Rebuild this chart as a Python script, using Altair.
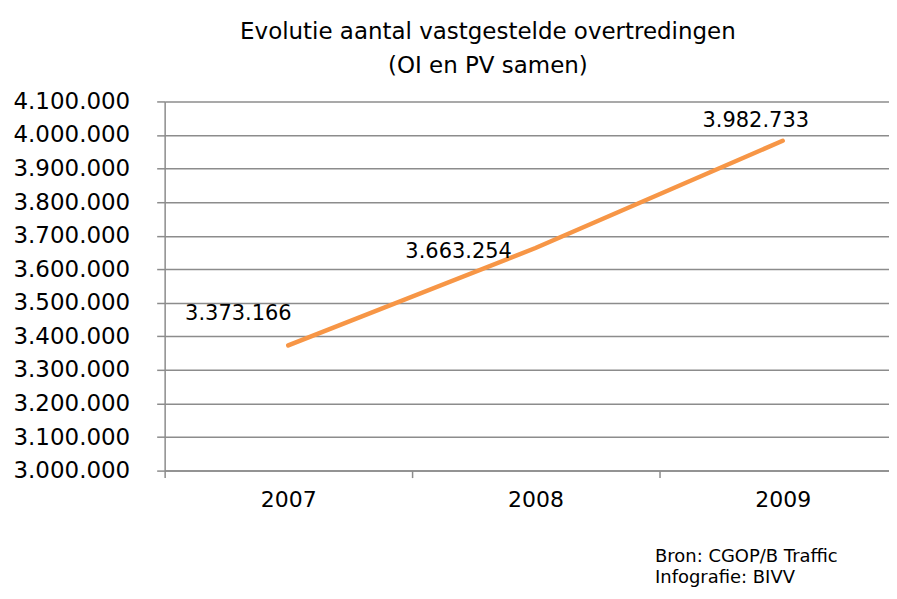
import altair as alt
import pandas as pd

# ---- data ----
years = [2007, 2008, 2009]
values = [3373166, 3663254, 3982733]
y_ticks = [3000000, 3100000, 3200000, 3300000, 3400000, 3500000,
           3600000, 3700000, 3800000, 3900000, 4000000, 4100000]
x_ticks = [2006.5, 2007, 2007.5, 2008, 2008.5, 2009]
title_lines = ["Evolutie aantal vastgestelde overtredingen", "(OI en PV samen)"]
source_lines = ["Bron: CGOP/B Traffic", "Infografie: BIVV"]

df = pd.DataFrame({"jaar": years, "aantal": values})

# ---- style ----
FONT = "DejaVu Sans"
GRID = "#8c8c8c"
ORANGE = "#F79646"
label_offsets = {2007: (-50, -31), 2008: (-77, 4), 2009: (-27, -20)}

dots_expr = "replace(format(datum.value, ','), regexp(',', 'g'), '.')"

x_scale = alt.Scale(domain=[2006.5, 2009.43], nice=False, zero=False)
y_scale = alt.Scale(domain=[3000000, 4100000], nice=False, zero=False)

x_axis = alt.Axis(
    values=x_ticks,
    grid=False,
    labelExpr="datum.value % 1 == 0 ? format(datum.value, 'd') : ''",
    labelOverlap=False,
    labelFlush=False,
    labelFont=FONT,
    labelFontSize=22,
    labelColor="black",
    labelPadding=12,
    tickSize=7,
    tickWidth=1.5,
    tickColor=GRID,
    tickOpacity={"condition": {"test": "datum.value % 1 == 0", "value": 0}, "value": 1},
    domainColor=GRID,
    domainWidth=1.5,
    title=source_lines,
    titleFont=FONT,
    titleFontSize=18,
    titleFontWeight="normal",
    titleColor="black",
    titleLineHeight=21,
    titleAlign="left",
    titleBaseline="top",
    titleAngle=0,
    titleX=491,
    titleY=77,
)

y_axis = alt.Axis(
    values=y_ticks,
    labelExpr=dots_expr,
    labelOverlap=False,
    labelFont=FONT,
    labelFontSize=23,
    labelColor="black",
    labelPadding=27,
    tickSize=8,
    tickWidth=1.5,
    tickColor=GRID,
    domainColor=GRID,
    domainWidth=1.5,
    grid=True,
    gridColor=GRID,
    gridWidth=1.5,
    title=None,
)

X = alt.X("jaar:Q", scale=x_scale, axis=x_axis)
Y = alt.Y("aantal:Q", scale=y_scale, axis=y_axis)

base = alt.Chart(df).transform_calculate(
    label="replace(format(datum.aantal, ','), regexp(',', 'g'), '.')"
)

line = base.mark_line(color=ORANGE, strokeWidth=4.5, strokeCap="round").encode(x=X, y=Y)

layers = [line]
for yr in years:
    dx, dy = label_offsets[yr]
    layers.append(
        base.transform_filter(alt.datum.jaar == yr)
        .mark_text(dx=dx, dy=dy, font=FONT, fontSize=21, color="black")
        .encode(x=X, y=Y, text="label:N")
    )

chart = (
    alt.layer(*layers)
    .properties(
        width=726,
        height=370,
        padding={"left": 4, "top": 12, "right": 0, "bottom": 0},
        title=alt.TitleParams(
            title_lines,
            font=FONT,
            fontSize=23,
            fontWeight="normal",
            color="black",
            anchor="middle",
            frame="group",
            dx=-39,
            offset=12,
            lineHeight=35,
        ),
    )
    .configure_view(stroke=None)
)

chart.save("out.html", embed_options={"renderer": "svg", "actions": False})
